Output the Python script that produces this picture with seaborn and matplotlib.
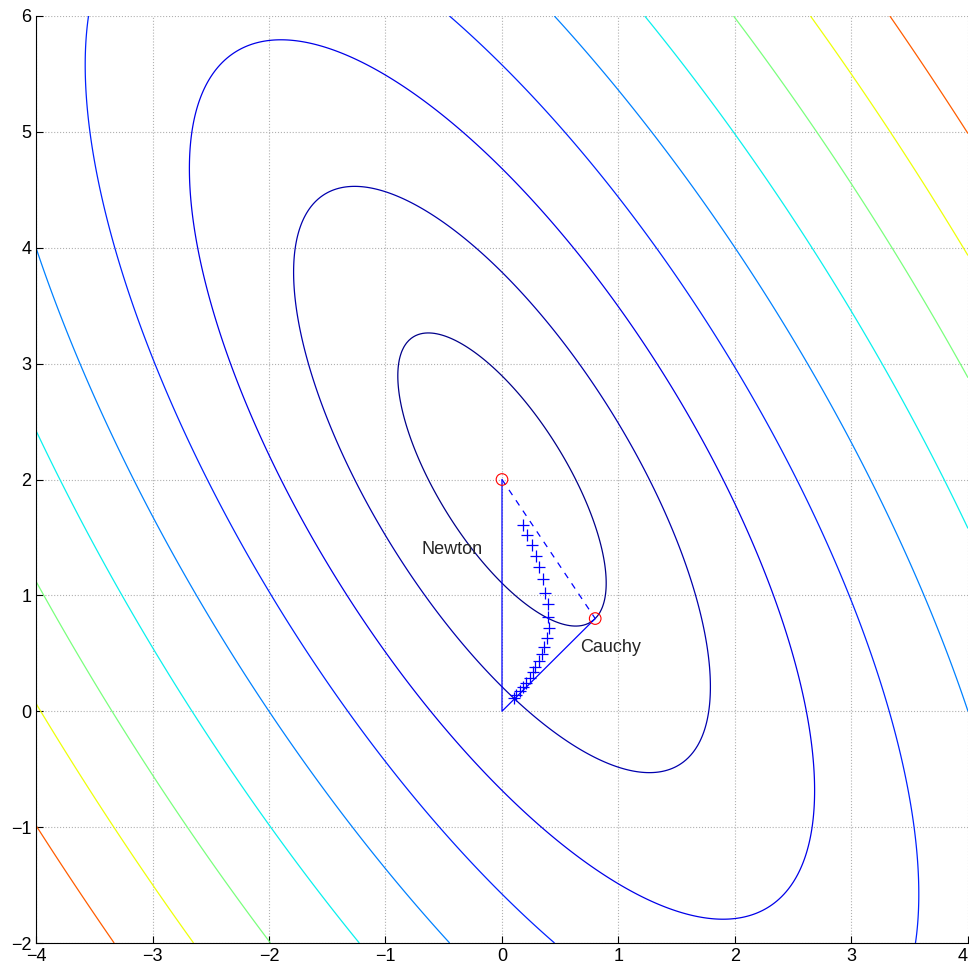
import numpy as np
import pandas as pd
import matplotlib.pyplot as plt
import seaborn as sns

# quadratic model m(p) = g'p + 0.5 p'Bp  (read from Newton / Cauchy points)
hess = [[2.0, 1.0], [1.0, 1.0]]
grad = [-2.0, -2.0]
contour_levels = [0.4, 1.6, 3.6, 6.4, 10.0, 14.4, 19.9, 25.6, 32.4]

newton_pt = [0.0, 2.0]
cauchy_pt = [0.8, 0.8]
origin_pt = [0.0, 0.0]

# trust-region steps ("+" markers)
tr_x = [0.181, 0.215, 0.258, 0.292, 0.318, 0.353, 0.373, 0.396, 0.396, 0.401,
        0.387, 0.364, 0.344, 0.316, 0.287, 0.264, 0.238, 0.210, 0.181, 0.152,
        0.124, 0.107]
tr_y = [1.605, 1.525, 1.438, 1.340, 1.245, 1.145, 1.024, 0.929, 0.814, 0.722,
        0.636, 0.555, 0.492, 0.434, 0.382, 0.339, 0.291, 0.244, 0.210, 0.175,
        0.144, 0.115]

sns.set_theme(style="ticks")
plt.rcParams['font.family'] = ['Liberation Sans', 'DejaVu Sans']

fig = plt.figure(figsize=(9.7, 9.74), dpi=100)
ax = fig.add_axes([36 / 970, 1 - 943 / 974, 932 / 970, 927 / 974])

# contour field
B = np.array(hess)
g = np.array(grad)
xs = np.linspace(-4, 4, 401)
ys = np.linspace(-2, 6, 401)
X, Y = np.meshgrid(xs, ys)
Z = g[0] * X + g[1] * Y + 0.5 * (B[0, 0] * X**2 + 2 * B[0, 1] * X * Y + B[1, 1] * Y**2)
Z = Z - Z.min()
ax.contour(X, Y, Z, levels=contour_levels, cmap='jet', vmin=0, vmax=Z.max(),
           linewidths=0.9)

# dogleg triangle
path = pd.DataFrame({'x': [newton_pt[0], origin_pt[0], cauchy_pt[0]],
                     'y': [newton_pt[1], origin_pt[1], cauchy_pt[1]]})
sns.lineplot(data=path, x='x', y='y', sort=False, estimator=None, color='blue',
             linewidth=0.9, ax=ax)
ax.plot([newton_pt[0], cauchy_pt[0]], [newton_pt[1], cauchy_pt[1]],
        color='blue', linewidth=0.9, linestyle=(0, (5, 5)))

# trust region solutions
steps = pd.DataFrame({'x': tr_x, 'y': tr_y})
sns.scatterplot(data=steps, x='x', y='y', marker='+', s=70, color='blue',
                linewidth=0.9, ax=ax, zorder=4)

# Newton and Cauchy points
pts = pd.DataFrame({'x': [newton_pt[0], cauchy_pt[0]], 'y': [newton_pt[1], cauchy_pt[1]]})
sns.scatterplot(data=pts, x='x', y='y', marker='o', s=70, facecolor='none',
                edgecolor='red', linewidth=0.8, ax=ax, zorder=5)

ax.text(-0.69, 1.40, 'Newton', fontsize=13, va='center', ha='left')
ax.text(0.67, 0.55, 'Cauchy', fontsize=13, va='center', ha='left')

ax.set_xlim(-4, 4)
ax.set_ylim(-2, 6)
ax.set_xticks(range(-4, 5))
ax.set_yticks(range(-2, 7))
ax.set_xlabel('')
ax.set_ylabel('')
ax.grid(True, linestyle=':', color='#b0b0b0', linewidth=0.8)
ax.tick_params(direction='in', length=5, labelsize=13, width=0.8, colors='black')
sns.despine(ax=ax)
for s in ['left', 'bottom']:
    ax.spines[s].set_linewidth(0.8)
    ax.spines[s].set_color('black')

# keep the last x label inside the figure
ax.get_xticklabels()[-1].set_horizontalalignment('right')

fig.savefig('out.png', dpi=100)
